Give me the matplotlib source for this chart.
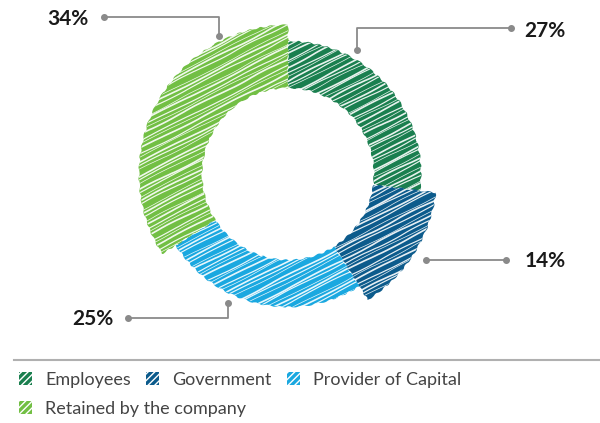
import numpy as np
import matplotlib
matplotlib.use("Agg")
import matplotlib.pyplot as plt
from matplotlib.patches import Patch

W, H = 600, 423

labels = ["Employees", "Government", "Provider of Capital", "Retained by the company"]
shares = [27, 14, 25, 34]
colors = ["#1a7f4f", "#0c5b8c", "#1aa8e0", "#72bf44"]
# slices drawn with the wider outer ring
wide = [False, True, False, True]

# callout anchors in pixel coords (y measured from top): label, dot near ring, elbow, outer dot
callouts = [
    ("27%", (545, 31), (357, 50), (357, 28), (511, 28)),
    ("14%", (545, 261), (426, 260), (426, 260), (506, 260)),
    ("25%", (93, 319), (228, 303), (228, 318), (128, 318)),
    ("34%", (68, 19), (219, 36), (219, 17), (104, 17)),
]

plt.rcParams["font.family"] = ["Lato", "DejaVu Sans"]

fig = plt.figure(figsize=(W / 100, H / 100), dpi=100)
ax = fig.add_axes([0, 0, 1, 1])

cx, cy = 288, H - 174
r_in, r_out, r_wide = 86, 133, 149

wedges, _ = ax.pie(shares, colors=colors, startangle=90, counterclock=False,
                   radius=r_out, center=(cx, cy),
                   wedgeprops=dict(width=r_out - r_in, linewidth=0))
for w, big in zip(wedges, wide):
    if big:
        w.set_radius(r_wide)
        w.set_width(r_wide - r_in)
    w.set_sketch_params(0.7, 12, 2)

# scribble texture: white streaks clipped to each slice
ang = np.deg2rad(27)
dx, dy = np.cos(ang), np.sin(ang)
nx, ny = -dy, dx
gaps = [3.1, 4.6, 2.4, 5.3, 3.7, 2.8, 6.0, 3.3]
for k, w in enumerate(wedges):
    o = -170 + k * 1.7
    j = 0
    while o < 170:
        x0, y0 = cx + nx * o, cy + ny * o
        L = 180
        ln, = ax.plot([x0 - dx * L, x0 + dx * L], [y0 - dy * L, y0 + dy * L],
                      color="white", lw=0.5 + 0.35 * (j % 3), alpha=0.9,
                      solid_capstyle="round")
        ln.set_sketch_params(0.6, 90 + (j % 4) * 20, 3)
        ln.set_clip_path(w)
        o += gaps[(j + k) % len(gaps)]
        j += 1

# callouts
gray = "#8a8a8a"
for txt, tpos, p1, p2, p3 in callouts:
    xs = [p1[0], p2[0], p3[0]]
    ys = [H - p1[1], H - p2[1], H - p3[1]]
    ax.plot(xs, ys, color=gray, lw=1.3, zorder=5)
    ax.plot([xs[0], xs[-1]], [ys[0], ys[-1]], "o", color=gray, ms=4, zorder=6)
    ax.text(tpos[0], H - tpos[1], txt, ha="center", va="center",
            fontsize=15, fontweight="bold", color="#1a1a1a")

# separator above the legend
ax.plot([14, 600], [H - 360, H - 360], color="#b0b0b0", lw=1.5)

ax.set_xlim(0, W)
ax.set_ylim(0, H)
ax.set_aspect("equal")
ax.axis("off")

plt.rcParams["hatch.linewidth"] = 1.0
handles = [Patch(facecolor=c, edgecolor="white", hatch="/////", linewidth=0) for c in colors]

leg_kw = dict(loc="upper left", frameon=False, fontsize=13, borderpad=0, borderaxespad=0,
              handlelength=0.7, handleheight=0.7, handletextpad=0.75, columnspacing=0.85,
              labelcolor="#444444", bbox_transform=fig.transFigure)
leg1 = fig.legend(handles[:3], labels[:3], ncol=3,
                  bbox_to_anchor=(19 / W, 1 - 372 / H), **leg_kw)
leg2 = fig.legend(handles[3:], labels[3:], ncol=1,
                  bbox_to_anchor=(19 / W, 1 - 401 / H), **leg_kw)

fig.savefig("out.png", dpi=100)
